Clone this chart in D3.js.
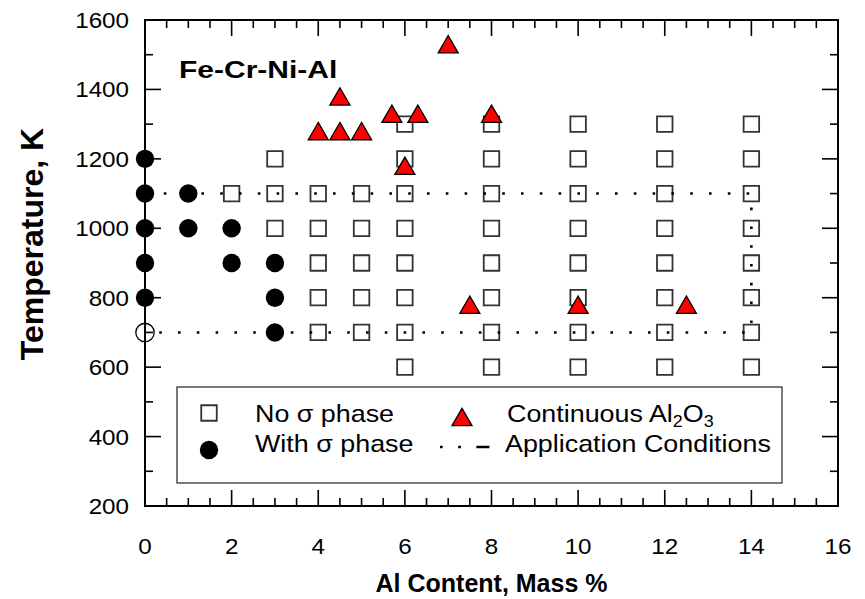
<!DOCTYPE html>
<html>
<head>
<meta charset="utf-8" />
<script src="https://cdn.jsdelivr.net/npm/d3@7"></script>
<title>Fe-Cr-Ni-Al</title>
<style>
body { margin: 0; background: #fff; }
text { font-family: "Liberation Sans", Arial, sans-serif; fill: #000; }
</style>
</head>
<body>
<script>
// Al content (mass %) and temperature (K)
var noSigmaX = [2, 3, 3, 3, 4, 4, 4, 4, 4, 5, 5, 5, 5, 5,
  6, 6, 6, 6, 6, 6, 6, 6,
  8, 8, 8, 8, 8, 8, 8, 8,
  10, 10, 10, 10, 10, 10, 10, 10,
  12, 12, 12, 12, 12, 12, 12, 12,
  14, 14, 14, 14, 14, 14, 14, 14];
var noSigmaT = [1100, 1200, 1100, 1000, 1100, 1000, 900, 800, 700, 1100, 1000, 900, 800, 700,
  1300, 1200, 1100, 1000, 900, 800, 700, 600,
  1300, 1200, 1100, 1000, 900, 800, 700, 600,
  1300, 1200, 1100, 1000, 900, 800, 700, 600,
  1300, 1200, 1100, 1000, 900, 800, 700, 600,
  1300, 1200, 1100, 1000, 900, 800, 700, 600];

var withSigmaX = [0, 0, 0, 0, 0, 1, 1, 2, 2, 3, 3, 3];
var withSigmaT = [1200, 1100, 1000, 900, 800, 1100, 1000, 1000, 900, 900, 800, 700];

var openX = [0];
var openT = [700];

var aluminaX = [4, 4.5, 5, 4.5, 5.7, 6.3, 6, 7, 8, 7.5, 10, 12.5];
var aluminaT = [1280, 1280, 1280, 1380, 1330, 1330, 1180, 1530, 1330, 780, 780, 780];

// application conditions box
var appX = [0, 14, 14, 0];
var appT = [1100, 1100, 700, 700];

var xTicks = [0, 2, 4, 6, 8, 10, 12, 14, 16];
var yTicks = [200, 400, 600, 800, 1000, 1200, 1400, 1600];

var W = 865, H = 599;
var pL = 145, pR = 838, pT = 20, pB = 506;

var svg = d3.select("body").append("svg")
  .attr("width", W).attr("height", H);

var x = d3.scaleLinear().domain([0, 16]).range([pL, pR]);
var y = d3.scaleLinear().domain([200, 1600]).range([pB, pT]);

function sText(g, tx, ty, str, size, sx, anchor, weight) {
  return g.append("text")
    .attr("transform", "translate(" + tx + "," + ty + ") scale(" + sx + ",1)")
    .attr("text-anchor", anchor)
    .attr("font-size", size)
    .attr("font-weight", weight || "normal")
    .text(str);
}

// ticks, inward on all four sides
var tk = svg.append("g").attr("stroke", "#000").attr("stroke-width", 1.6);
d3.range(0, 16.01, 0.5).forEach(function (v) {
  var len = (v % 2 === 0) ? 16 : 8;
  tk.append("line").attr("x1", x(v)).attr("x2", x(v)).attr("y1", pB).attr("y2", pB - len);
  tk.append("line").attr("x1", x(v)).attr("x2", x(v)).attr("y1", pT).attr("y2", pT + len);
});
d3.range(200, 1601, 100).forEach(function (v) {
  var len = (v % 200 === 0) ? 16 : 8;
  tk.append("line").attr("y1", y(v)).attr("y2", y(v)).attr("x1", pL).attr("x2", pL + len);
  tk.append("line").attr("y1", y(v)).attr("y2", y(v)).attr("x1", pR).attr("x2", pR - len);
});

svg.append("rect")
  .attr("x", pL).attr("y", pT)
  .attr("width", pR - pL).attr("height", pB - pT)
  .attr("fill", "none").attr("stroke", "#000").attr("stroke-width", 2);

// tick labels
xTicks.forEach(function (v) { sText(svg, x(v), 554, v, 22, 1.1, "middle"); });
yTicks.forEach(function (v) { sText(svg, 129, y(v) + 8, v, 22, 1.1, "end"); });

// axis titles
sText(svg, (pL + pR) / 2, 592, "Al Content, Mass %", 25, 1, "middle", "bold");
svg.append("text")
  .attr("transform", "translate(43,244) rotate(-90)")
  .attr("text-anchor", "middle")
  .attr("font-size", 32).attr("font-weight", "bold")
  .text("Temperature, K");

sText(svg, 179, 78, "Fe-Cr-Ni-Al", 24, 1.25, "start", "bold");

// markers
var sq = d3.symbol().type(d3.symbolSquare).size(15.5 * 15.5);
var circ = d3.symbol().type(d3.symbolCircle).size(Math.PI * 9.2 * 9.2);
var triSize = 20 * 20 * Math.sqrt(3) / 4;
var tri = d3.symbol().type(d3.symbolTriangle).size(triSize);
var triOff = 20 * Math.sqrt(3) / 2 / 6;

svg.append("g").selectAll("path").data(d3.range(noSigmaX.length)).join("path")
  .attr("d", sq)
  .attr("transform", function (i) { return "translate(" + x(noSigmaX[i]) + "," + y(noSigmaT[i]) + ")"; })
  .attr("fill", "#fff").attr("stroke", "#333").attr("stroke-width", 1.8);

svg.append("g").selectAll("path").data(d3.range(withSigmaX.length)).join("path")
  .attr("d", circ)
  .attr("transform", function (i) { return "translate(" + x(withSigmaX[i]) + "," + y(withSigmaT[i]) + ")"; })
  .attr("fill", "#000");

svg.append("g").selectAll("path").data(d3.range(openX.length)).join("path")
  .attr("d", circ)
  .attr("transform", function (i) { return "translate(" + x(openX[i]) + "," + y(openT[i]) + ")"; })
  .attr("fill", "none").attr("stroke", "#000").attr("stroke-width", 1.3);

// dotted application lines
var line = d3.line().x(function (i) { return x(appX[i]); }).y(function (i) { return y(appT[i]); });
svg.append("path")
  .attr("d", line(d3.range(appX.length)))
  .attr("fill", "none").attr("stroke", "#000").attr("stroke-width", 2.6)
  .attr("stroke-dasharray", "2.6,16.2");

svg.append("g").selectAll("path").data(d3.range(aluminaX.length)).join("path")
  .attr("d", tri)
  .attr("transform", function (i) { return "translate(" + x(aluminaX[i]) + "," + (y(aluminaT[i]) + triOff) + ")"; })
  .attr("fill", "#ff0000").attr("stroke", "#000").attr("stroke-width", 1.3);

// legend
var lg = svg.append("g");
lg.append("rect").attr("x", 177).attr("y", 387).attr("width", 605).attr("height", 96)
  .attr("fill", "#fff").attr("stroke", "#222").attr("stroke-width", 1.2);

lg.append("path").attr("d", sq).attr("transform", "translate(209,413)")
  .attr("fill", "#fff").attr("stroke", "#333").attr("stroke-width", 1.8);
sText(lg, 255, 422, "No \u03c3 phase", 24, 1.12, "start");

lg.append("path").attr("d", circ).attr("transform", "translate(209,450)").attr("fill", "#000");
sText(lg, 255, 452, "With \u03c3 phase", 24, 1.12, "start");

lg.append("path").attr("d", tri).attr("transform", "translate(462," + (417 + triOff) + ")")
  .attr("fill", "#ff0000").attr("stroke", "#000").attr("stroke-width", 1.3);
var t3 = sText(lg, 507, 422, "Continuous Al", 24, 1.12, "start");
t3.append("tspan").attr("font-size", 16).attr("dy", 5).text("2");
t3.append("tspan").attr("dy", -5).text("O");
t3.append("tspan").attr("font-size", 16).attr("dy", 5).text("3");

lg.append("line").attr("x1", 440).attr("x2", 491).attr("y1", 447).attr("y2", 447)
  .attr("stroke", "#000").attr("stroke-width", 2.6)
  .attr("stroke-dasharray", "2.7,15.5,2.7,15.5,13,10");
sText(lg, 505, 452, "Application Conditions", 24, 1.12, "start");
</script>
</body>
</html>
